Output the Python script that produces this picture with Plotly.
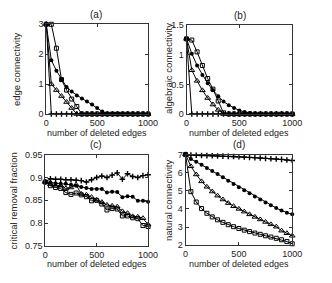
import plotly.graph_objects as go

# ---------------- data ----------------
x_edges = list(range(0, 1001, 50))

# (a) edge connectivity
ec_plus = [3] + [0] * 20
ec_circle = [3, 1.8, 1.45, 1.15, 0.9, 0.75, 0.62, 0.52, 0.42, 0.32, 0.2, 0.08] + [0] * 9
ec_triangle = [3, 1.0, 0.8, 0.6, 0.4, 0.2, 0] + [0] * 14
ec_square = [3, 3, 2.2, 1.15, 0.8, 0.5, 0.25, 0] + [0] * 13

# (b) algebraic connectivity
ac_plus = [1.27] + [0] * 20
ac_circle = [1.27, 1.02, 0.82, 0.66, 0.52, 0.4, 0.3, 0.21, 0.15, 0.1, 0.06, 0.035, 0.015, 0.005] + [0] * 7
ac_triangle = [1.27, 0.74, 0.56, 0.4, 0.27, 0.16, 0.07, 0] + [0] * 13
ac_square = [1.27, 1.25, 1.05, 0.82, 0.6, 0.42, 0.22, 0.02, 0] + [0] * 12

# (c) critical removal fraction
crf_plus = [0.89, 0.897, 0.896, 0.896, 0.895, 0.895, 0.894, 0.893, 0.89, 0.895, 0.9,
            0.903, 0.9, 0.905, 0.91, 0.896, 0.908, 0.902, 0.9, 0.904, 0.906]
crf_circle = [0.89, 0.889, 0.887, 0.886, 0.886, 0.884, 0.882, 0.879, 0.877, 0.875, 0.875,
              0.875, 0.867, 0.869, 0.868, 0.857, 0.859, 0.858, 0.849, 0.849, 0.847]
crf_triangle = [0.89, 0.885, 0.882, 0.882, 0.876, 0.878, 0.884, 0.864, 0.862, 0.857, 0.851,
                0.846, 0.84, 0.838, 0.836, 0.826, 0.822, 0.815, 0.814, 0.811, 0.797]
crf_square = [0.89, 0.882, 0.878, 0.876, 0.867, 0.863, 0.866, 0.862, 0.858, 0.849, 0.85,
              0.842, 0.829, 0.832, 0.831, 0.816, 0.816, 0.812, 0.81, 0.795, 0.793]

# (d) natural connectivity
nc_plus = [7, 6.97, 6.96, 6.95, 6.94, 6.93, 6.92, 6.91, 6.9, 6.89, 6.88,
           6.86, 6.84, 6.83, 6.81, 6.79, 6.77, 6.75, 6.73, 6.7, 6.67]
nc_circle = [7, 6.75, 6.6, 6.43, 6.26, 6.09, 5.92, 5.74, 5.56, 5.38, 5.2,
             5.03, 4.86, 4.69, 4.52, 4.36, 4.2, 4.05, 3.91, 3.79, 3.7]
nc_triangle = [7, 6.35, 5.9, 5.52, 5.22, 4.96, 4.73, 4.52, 4.32, 4.15, 4.0,
               3.85, 3.7, 3.56, 3.42, 3.28, 3.15, 3.02, 2.8, 2.66, 2.52]
nc_square = [7, 4.95, 4.38, 4.02, 3.76, 3.56, 3.4, 3.26, 3.13, 3.02, 2.92,
             2.83, 2.75, 2.67, 2.6, 2.52, 2.45, 2.38, 2.3, 2.2, 2.08]

panel_titles = ["(a)", "(b)", "(c)", "(d)"]
y_titles = ["edge connectivity", "algebraic connectivity",
            "critical removal fraction", "natural connectivity"]
x_title = "number of deleted edges"
x_ticks = [0, 500, 1000]
y_ticks_a = [0, 1, 2, 3]
y_ticks_b = [0, 0.5, 1, 1.5]
y_ticks_c = [0.75, 0.8, 0.85, 0.9, 0.95]
y_ticks_d = [2, 3, 4, 5, 6, 7]

# ---------------- figure ----------------
FONT = "Liberation Sans, Arial, sans-serif"
styles = [
    dict(symbol="cross-thin-open", size=4, color="black", line=dict(width=1.4, color="black")),
    dict(symbol="circle", size=4, color="black"),
    dict(symbol="triangle-up-open", size=5, color="black", line=dict(width=1, color="black")),
    dict(symbol="square-open", size=4, color="black", line=dict(width=1, color="black")),
]
panels = [
    [ec_plus, ec_circle, ec_triangle, ec_square],
    [ac_plus, ac_circle, ac_triangle, ac_square],
    [crf_plus, crf_circle, crf_triangle, crf_square],
    [nc_plus, nc_circle, nc_triangle, nc_square],
]

fig = go.Figure()
for i, series in enumerate(panels):
    sfx = "" if i == 0 else str(i + 1)
    for j, ys in enumerate(series):
        fig.add_trace(go.Scatter(
            x=x_edges, y=ys, mode="lines+markers",
            line=dict(color="black", width=1),
            marker=styles[j], showlegend=False, hoverinfo="skip",
            xaxis="x" + sfx, yaxis="y" + sfx, cliponaxis=False))

W, H = 332, 283
def dx(a, b):
    return [a / W, b / W]
def dy(top, bottom):
    return [1 - bottom / H, 1 - top / H]

axis_common = dict(showline=True, mirror="ticks", linecolor="#333", linewidth=1,
                   ticks="inside", ticklen=3, tickcolor="#333", showgrid=False,
                   zeroline=False, tickfont=dict(family=FONT, size=9, color="#222"))

x_domains = [dx(45, 151), dx(191, 301), dx(44, 151), dx(190, 301)]
y_domains = [dy(20, 113), dy(21, 113), dy(155, 250), dy(155, 249)]
y_ranges = [[0, 3], [0, 1.5], [0.75, 0.95], [2, 7]]
y_tickss = [y_ticks_a, y_ticks_b, y_ticks_c, y_ticks_d]

layout = dict(width=W, height=H, margin=dict(l=0, r=0, t=0, b=0),
              paper_bgcolor="white", plot_bgcolor="white", showlegend=False,
              hovermode=False)
for i in range(4):
    sfx = "" if i == 0 else str(i + 1)
    layout["xaxis" + sfx] = dict(axis_common, domain=x_domains[i], range=[0, 1000],
                                 tickvals=x_ticks, anchor="y" + sfx)
    layout["yaxis" + sfx] = dict(axis_common, domain=y_domains[i], range=y_ranges[i],
                                 tickvals=y_tickss[i], anchor="x" + sfx)
fig.update_layout(**layout)

ann = []
title_pos = [(97, 10), (247, 11), (97, 145), (246, 145)]
xt_pos = [(98, 133), (246, 133), (98, 269), (246, 269)]
yt_pos = [(14, 66), (172, 66), (11, 203), (173, 202)]
for i in range(4):
    common = dict(xref="paper", yref="paper", showarrow=False,
                  xanchor="center", yanchor="middle")
    ann.append(dict(common, text=panel_titles[i], x=title_pos[i][0] / W, y=1 - title_pos[i][1] / H,
                    font=dict(family=FONT, size=10, color="#222")))
    ann.append(dict(common, text=x_title, x=xt_pos[i][0] / W, y=1 - xt_pos[i][1] / H,
                    font=dict(family=FONT, size=9, color="#222")))
    ann.append(dict(common, text=y_titles[i], x=yt_pos[i][0] / W, y=1 - yt_pos[i][1] / H,
                    textangle=-90, font=dict(family=FONT, size=9.5, color="#222")))
fig.update_layout(annotations=ann)

fig.write_html("out.html", config={"displayModeBar": False},
               post_script="document.body.style.margin='0px';")
